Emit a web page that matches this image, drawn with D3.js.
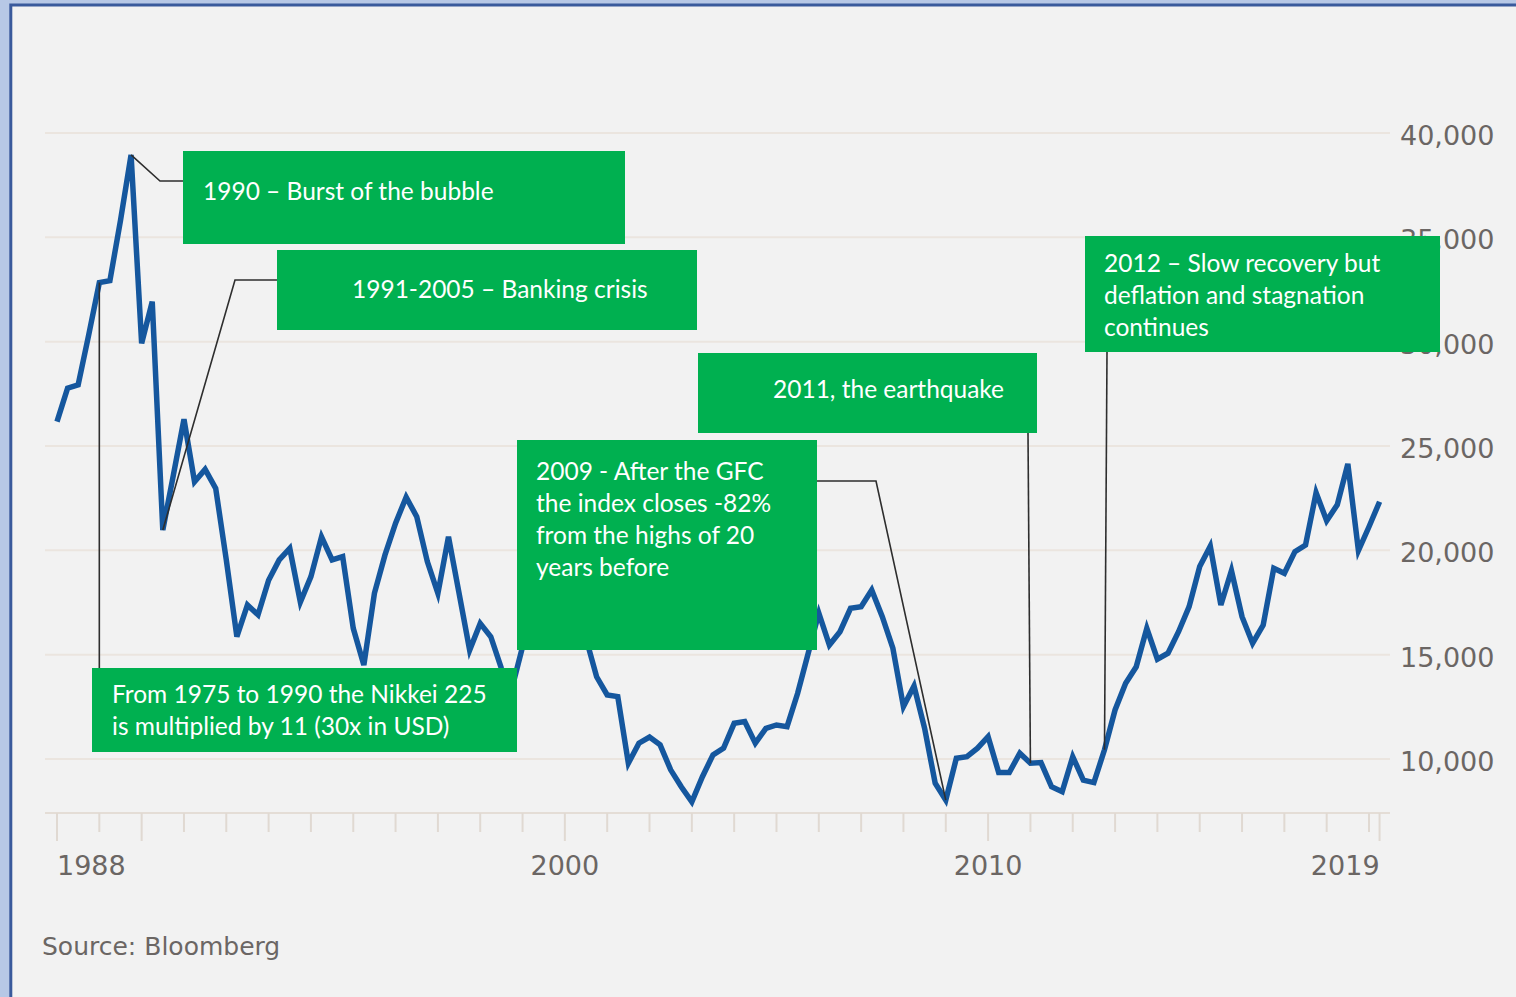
<!DOCTYPE html>
<html>
<head>
<meta charset="utf-8">
<script src="https://cdn.jsdelivr.net/npm/d3@7"></script>
<style>
  html, body { margin: 0; padding: 0; background: #b7c8e6; }
  svg { display: block; }
</style>
</head>
<body>
<svg id="chart" width="1516" height="997"></svg>
<script>
// Nikkei 225, quarterly closes from Q1 1988 to Q2 2019
const startYear = 1988;
const periodsPerYear = 4;
const nikkeiValues = [
  26170, 27770, 27930, 30330, 32830, 32920, 35810, 38950,
  29920, 31920, 20970, 23610, 26280, 23290, 23880, 22970,
  19540, 15860, 17380, 16910, 18570, 19540, 20090, 17520,
  18740, 20650, 19540, 19700, 16260, 14500, 17940, 19780,
  21300, 22550, 21610, 19460, 17940, 20650, 17940, 15220,
  16500, 15860, 14340, 13390, 15380, 17570, 17670, 18970,
  20360, 17470, 15780, 13940, 13070, 12990, 9800, 10760,
  11050, 10680, 9480, 8670, 7950, 9150, 10200, 10520,
  11710, 11790, 10760, 11470, 11630, 11550, 13150, 15070,
  16990, 15460, 16100, 17220, 17300, 18100, 16820, 15310,
  12510, 13500, 11470, 8840, 8030, 10040, 10110, 10520,
  11070, 9350, 9350, 10280, 9800, 9830, 8670, 8430,
  10110, 8990, 8870, 10440, 12350, 13630, 14420, 16260,
  14780, 15070, 16100, 17300, 19220, 20200, 17380, 19030,
  16820, 15550, 16420, 19140, 18900, 19940, 20250, 22760,
  21420, 22180, 24140, 19990, 21130, 22330
];

// Axis values
const yTickValues = [10000, 15000, 20000, 25000, 30000, 35000, 40000];
const yearTicks = d3.range(1988, 2020);
const majorYearTicks = [1988, 1990, 2000, 2010];
const yearLabels = [
  { year: 1988, text: "1988", anchor: "start" },
  { year: 2000, text: "2000", anchor: "middle" },
  { year: 2010, text: "2010", anchor: "middle" }
];
const lastLabel = "2019";
const sourceText = "Source: Bloomberg";

// Callouts: which data point each leader line points at, plus its text
const callouts = [
  { anchor: 7,  box: [183, 151, 442, 93],  text: ["1990 – Burst of the bubble"], tx: 203, ty: 200,
    path: (p) => [p, [160, 181], [183, 181]] },
  { anchor: 10, box: [277, 250, 420, 80],  text: ["1991-2005 – Banking crisis"], tx: 352, ty: 298,
    path: (p) => [p, [235, 280], [277, 280]] },
  { anchor: 92, box: [698, 353, 339, 80],  text: ["2011, the earthquake"], tx: 773, ty: 398,
    path: (p) => [[1028, 433], p] },
  { anchor: 84, box: [517, 440, 300, 210], text: ["2009 - After the GFC", "the index closes -82%", "from the highs of 20", "years before"], tx: 536, ty: 480,
    path: (p) => [[817, 481], [876, 481], p] },
  { anchor: 99, box: [1085, 236, 355, 116], text: ["2012 – Slow recovery but", "deflation and stagnation", "continues"], tx: 1104, ty: 272,
    path: (p) => [[1107, 352], p] },
  { anchor: 4,  box: [92, 668, 425, 84],  text: ["From 1975 to 1990 the Nikkei 225", "is multiplied by 11 (30x in USD)"], tx: 112, ty: 703,
    path: (p) => [p, [p[0], 668]] }
];

const data = nikkeiValues.map((v, i) => ({ t: startYear + i / periodsPerYear, v }));
const lastT = data[data.length - 1].t;

const svg = d3.select("#chart");

// Frame
svg.append("rect").attr("x", 0).attr("y", 0).attr("width", 1516).attr("height", 997).attr("fill", "#b7c8e6");
svg.append("rect").attr("x", 10.8).attr("y", 5).attr("width", 1530).attr("height", 1010)
  .attr("fill", "#f2f2f2").attr("stroke", "#3a5a9c").attr("stroke-width", 3);

const x = d3.scaleLinear().domain([1988, 2019]).range([57, 1369]);
const y = d3.scaleLinear().domain([10000, 40000]).range([759, 133]);

const plotLeft = 45, plotRight = 1390, axisY = 813;
const gridColor = "#ebe5df";
const textColor = "#6b6664";

// Horizontal gridlines
svg.append("g").selectAll("line").data(yTickValues).join("line")
  .attr("x1", plotLeft).attr("x2", plotRight)
  .attr("y1", d => y(d)).attr("y2", d => y(d))
  .attr("stroke", gridColor).attr("stroke-width", 2);

// Y labels
const yAxis = d3.axisRight(y).tickValues(yTickValues).tickSize(0).tickPadding(10).tickFormat(d3.format(","));
const gy = svg.append("g").attr("transform", `translate(${plotRight},0)`).call(yAxis);
gy.select(".domain").remove();
gy.selectAll("text")
  .attr("font-family", "DejaVu Sans").attr("font-size", 27).attr("fill", textColor)
  .attr("dy", "0.42em");

// Bottom axis baseline and ticks
svg.append("line").attr("x1", plotLeft).attr("x2", plotRight).attr("y1", axisY).attr("y2", axisY)
  .attr("stroke", "#e4ddd6").attr("stroke-width", 2);
const tickData = yearTicks.map(yr => ({ t: yr, major: majorYearTicks.includes(yr) }))
  .concat([{ t: lastT, major: true }]);
svg.append("g").selectAll("line").data(tickData).join("line")
  .attr("x1", d => x(d.t)).attr("x2", d => x(d.t))
  .attr("y1", axisY).attr("y2", d => axisY + (d.major ? 28 : 19))
  .attr("stroke", "#e0d9d2").attr("stroke-width", 2);

// X labels
svg.append("g").selectAll("text").data(yearLabels).join("text")
  .attr("x", d => x(d.year)).attr("y", 875)
  .attr("text-anchor", d => d.anchor)
  .attr("font-family", "DejaVu Sans").attr("font-size", 27).attr("fill", textColor)
  .text(d => d.text);
svg.append("text").attr("x", x(lastT)).attr("y", 875).attr("text-anchor", "end")
  .attr("font-family", "DejaVu Sans").attr("font-size", 27).attr("fill", textColor)
  .text(lastLabel);

// Source
svg.append("text").attr("x", 42).attr("y", 955)
  .attr("font-family", "DejaVu Sans").attr("font-size", 25).attr("fill", textColor)
  .text(sourceText);

// Index line
const line = d3.line().x(d => x(d.t)).y(d => y(d.v));
svg.append("path").datum(data).attr("d", line)
  .attr("fill", "none").attr("stroke", "#15579e").attr("stroke-width", 5.5)
  .attr("stroke-linejoin", "miter").attr("stroke-miterlimit", 4);

// Leader lines
const pt = i => [x(data[i].t), y(data[i].v)];
svg.append("g").selectAll("path").data(callouts).join("path")
  .attr("d", d => d3.line()(d.path(pt(d.anchor))))
  .attr("fill", "none").attr("stroke", "#2e2e2e").attr("stroke-width", 1.6);

// Callout boxes
const boxes = svg.append("g").selectAll("g").data(callouts).join("g");
boxes.append("rect")
  .attr("x", d => d.box[0]).attr("y", d => d.box[1])
  .attr("width", d => d.box[2]).attr("height", d => d.box[3])
  .attr("fill", "#00b050");
boxes.each(function(d) {
  const t = d3.select(this).append("text")
    .attr("font-family", "Lato").attr("font-size", 24.5).attr("fill", "#ffffff");
  d.text.forEach((s, k) => {
    t.append("tspan").attr("x", d.tx).attr("y", d.ty + k * 32).text(s);
  });
});
</script>
</body>
</html>
